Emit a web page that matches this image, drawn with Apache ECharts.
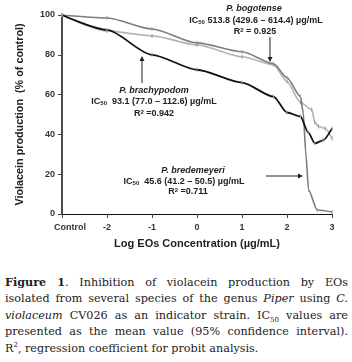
<!DOCTYPE html>
<html>
<head>
<meta charset="utf-8">
<title>Violacein inhibition</title>
<style>
  body { margin: 0; background: #fff; }
  #main { width: 352px; height: 255px; }
  #caption {
    position: absolute; left: 5px; top: 274px; width: 343px;
    font-family: "DejaVu Serif", serif; font-size: 11.2px; line-height: 16.8px; color: #222;
  }
  #caption div { height: 16.8px; text-align: justify; text-align-last: justify; white-space: nowrap; }
  #caption div.last { text-align-last: left; }
  #caption .lo { font-size: 7px; position: relative; top: 3px; line-height: 0; }
  #caption .hi { font-size: 7px; position: relative; top: -5px; line-height: 0; }
</style>
</head>
<body>
<div id="main"></div>
<div id="caption">
  <div><b>Figure 1</b>. Inhibition of violacein production by EOs</div>
  <div>isolated from several species of the genus <i>Piper</i> using <i>C.</i></div>
  <div><i>violaceum</i> CV026 as an indicator strain. IC<span class="lo">50</span> values are</div>
  <div>presented as the mean value (95% confidence interval).</div>
  <div class="last">R<span class="hi">2</span>, regression coefficient for probit analysis.</div>
</div>
<script src="https://cdn.jsdelivr.net/npm/echarts@6/dist/echarts.min.js"></script>
<script>
// log concentration (x) and violacein production, % of control (y)
var bredemeyeriX = [-3, -2, -1, 0, 1, 1.7, 2, 2.3, 2.36, 2.42, 2.48, 2.67, 3];
var bredemeyeriY = [100, 98.5, 93, 86, 81.5, 75.5, 68.5, 59, 51, 30, 12, 2, 1];
var bogotenseX = [-3, -2, -1, 0, 1, 1.7, 2, 2.3, 2.55, 2.62, 2.7, 2.85, 3];
var bogotenseY = [100, 92, 89.5, 85, 79, 75, 66.5, 56, 52.5, 46, 44, 43, 38];
var brachypodomX = [-3, -2, -1, 0, 1, 1.7, 2, 2.3, 2.47, 2.62, 2.8, 3];
var brachypodomY = [100, 92.5, 80, 72.5, 66, 59, 51, 49, 41, 35.5, 37, 43];
var xTicks = [-3, -2, -1, 0, 1, 2, 3];
var xTickLabels = ['Control', '-2', '-1', '0', '1', '2', '3'];

function pairs(xs, ys) {
    return xs.map(function (x, i) { return [x, ys[i]]; });
}

var myChart = echarts.init(document.getElementById('main'));

var lineSeries = function (name, xs, ys, color, width) {
    return {
        name: name,
        type: 'line',
        data: pairs(xs, ys),
        smooth: 0.25,
        smoothMonotone: 'x',
        symbol: 'rect',
        symbolSize: [1, 4],
        itemStyle: { color: '#999' },
        lineStyle: { color: color, width: width },
        z: 2
    };
};

var font = 'Liberation Sans, Arial, sans-serif';
var sub = { font: 'bold 6px ' + font, fill: '#222', verticalAlign: 'bottom' };
var sup = { font: 'bold 6px ' + font, fill: '#222', verticalAlign: 'top' };
function note(x, y, text, italic) {
    return { type: 'text', x: x, y: y, style: {
        text: text, font: (italic ? 'italic ' : '') + 'bold 9px ' + font, fill: '#222',
        align: 'center', verticalAlign: 'middle', rich: { s: sub, p: sup } } };
}

myChart.setOption({
    animation: false,
    grid: { left: 62, top: 15, width: 270, height: 199 },
    xAxis: {
        type: 'value',
        min: -3, max: 3, interval: 1,
        splitLine: { show: false },
        axisLine: { lineStyle: { color: '#111', width: 1.2 } },
        axisTick: { length: 4, lineStyle: { color: '#444' } },
        axisLabel: {
            color: '#333', fontWeight: 'bold', fontSize: 9, fontFamily: font, margin: 9,
            formatter: function (v) {
                var i = xTicks.indexOf(v);
                if (i === 0) return '{c|' + xTickLabels[0] + '}';
                return xTickLabels[i];
            },
            rich: { c: { padding: [0, 0, 0, 16], fontWeight: 'bold', fontSize: 9, color: '#333', fontFamily: font } }
        },
        name: 'Log EOs Concentration (µg/mL)',
        nameLocation: 'middle',
        nameGap: 24,
        nameTextStyle: { color: '#222', fontWeight: 'bold', fontSize: 11, fontFamily: font }
    },
    yAxis: {
        type: 'value',
        min: 0, max: 100, interval: 20,
        splitLine: { show: false },
        axisLine: { show: true, onZero: false, lineStyle: { color: '#111', width: 1.5 } },
        axisTick: { show: true, length: 4, lineStyle: { color: '#444' } },
        axisLabel: { color: '#333', fontWeight: 'bold', fontSize: 9, fontFamily: font, margin: 7 },
        name: 'Violacein production  (% of control)',
        nameLocation: 'middle',
        nameGap: 36,
        nameTextStyle: { color: '#222', fontWeight: 'bold', fontSize: 10.8, fontFamily: font }
    },
    series: [
        lineSeries('P. bogotense', bogotenseX, bogotenseY, '#b4b4b4', 1.6),
        lineSeries('P. bredemeyeri', bredemeyeriX, bredemeyeriY, '#7c7c7c', 1.6),
        lineSeries('P. brachypodom', brachypodomX, brachypodomY, '#111111', 1.8)
    ],
    graphic: [
        // P. bogotense annotation
        note(254, 9, 'P. bogotense', true),
        note(256, 21, 'IC{s|50} 513.8 (429.6 – 614.4) µg/mL'),
        note(255, 32, 'R{p|2} = 0.925'),
        { type: 'line', shape: { x1: 270, y1: 37, x2: 270, y2: 58 }, style: { stroke: '#222', lineWidth: 1 } },
        { type: 'polygon', shape: { points: [[267.5, 57], [272.5, 57], [270, 62]] }, style: { fill: '#222' } },
        // P. brachypodom annotation
        note(154, 91, 'P. brachypodom', true),
        note(154, 102, 'IC{s|50}  93.1 (77.0 – 112.6) µg/mL'),
        note(154, 114, 'R{p|2} =0.942'),
        { type: 'line', shape: { x1: 142, y1: 83, x2: 142, y2: 60 }, style: { stroke: '#222', lineWidth: 1 } },
        { type: 'polygon', shape: { points: [[139.5, 61], [144.5, 61], [142, 56]] }, style: { fill: '#222' } },
        // P. bredemeyeri annotation
        note(193, 171, 'P. bredemeyeri', true),
        note(184, 182, 'IC{s|50}  45.6 (41.2 – 50.5) µg/mL'),
        note(188, 192, 'R{p|2} =0.711'),
        { type: 'line', shape: { x1: 266, y1: 176, x2: 299, y2: 176 }, style: { stroke: '#222', lineWidth: 1 } },
        { type: 'polygon', shape: { points: [[298, 173.5], [298, 178.5], [303, 176]] }, style: { fill: '#222' } }
    ]
});
</script>
</body>
</html>
